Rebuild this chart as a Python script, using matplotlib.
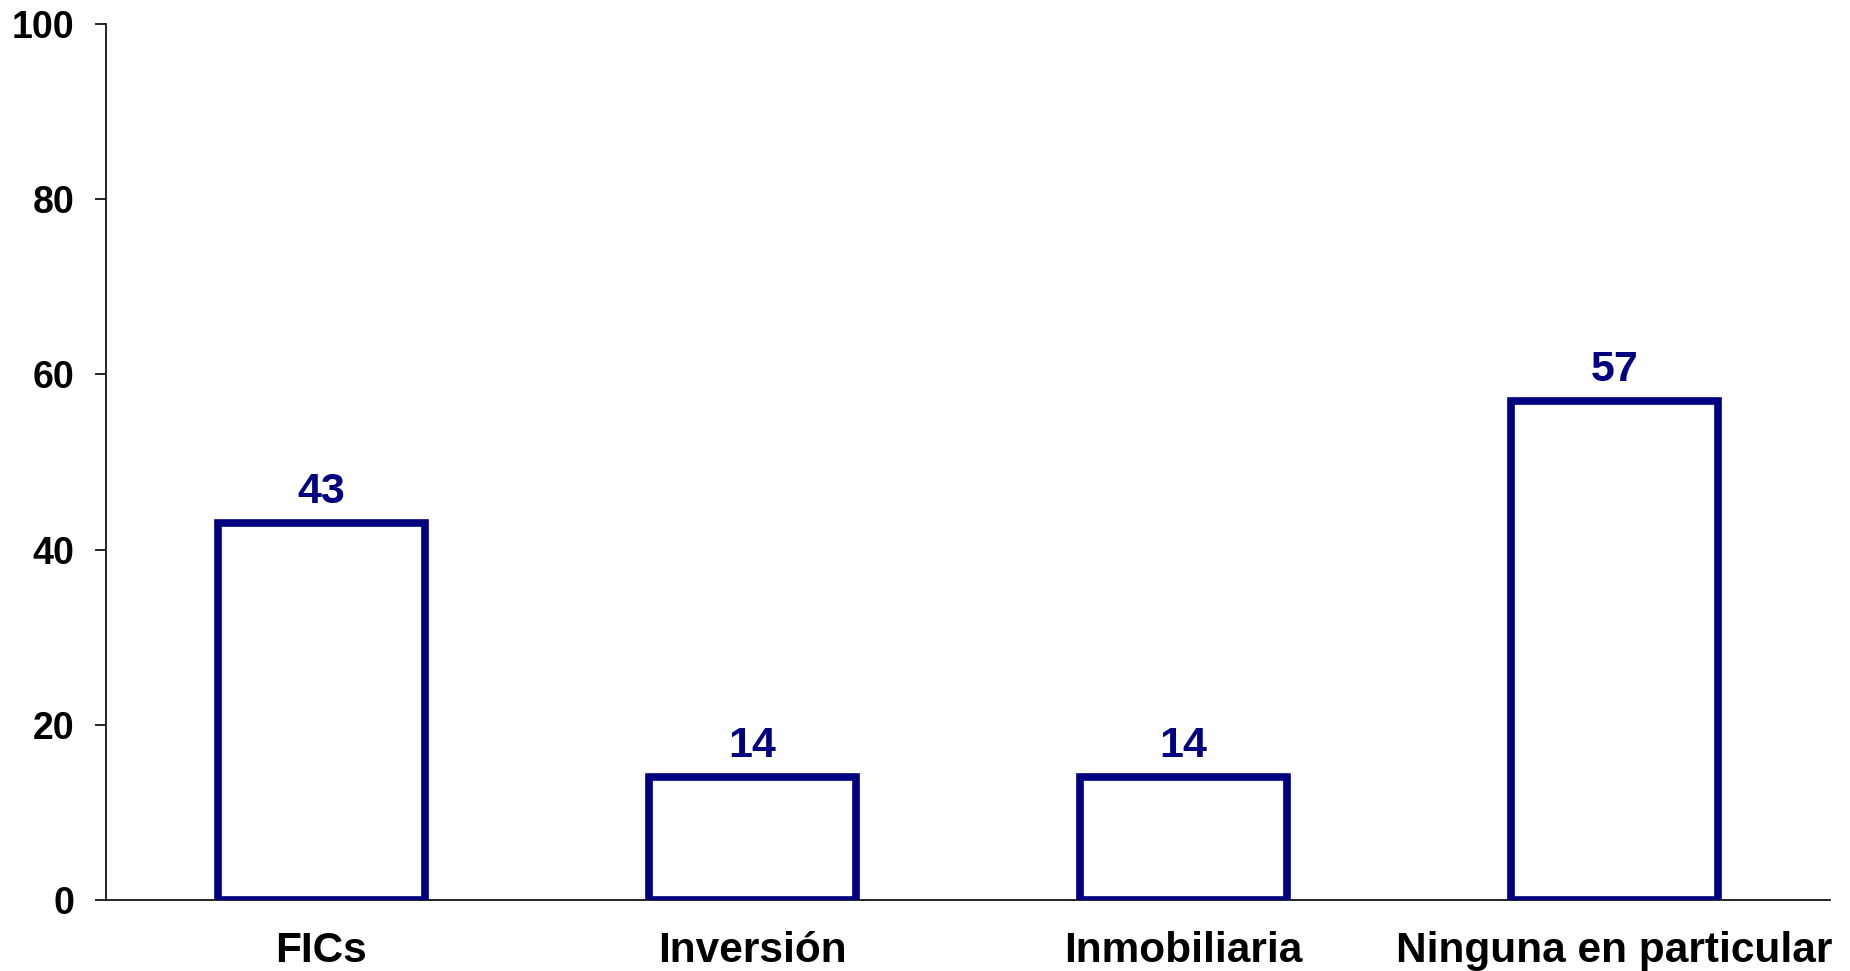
import matplotlib
matplotlib.use("Agg")
import matplotlib.pyplot as plt

categories = ["FICs", "Inversión", "Inmobiliaria", "Ninguna en particular"]
values = [43, 14, 14, 57]
yticks = [0, 20, 40, 60, 80, 100]

plt.rcParams['font.family'] = ['Liberation Sans', 'DejaVu Sans']
plt.rcParams['font.weight'] = 'bold'

fig = plt.figure(figsize=(18.5, 9.71), dpi=100)
ax = fig.add_axes([106/1850, 71/971, (1830-106)/1850, (900-24)/971])

x = range(len(categories))
bars = ax.bar(x, values, width=0.48, facecolor='white', edgecolor='#000080',
              linewidth=5.5, zorder=3)
for xi, v in zip(x, values):
    ax.annotate(str(v), (xi, v), xytext=(0, 8), textcoords='offset points',
                ha='center', va='bottom', fontsize=31, fontweight='bold',
                color='#000080')

ax.set_xlim(-0.5, len(categories) - 0.5)
ax.set_ylim(0, 100)
ax.set_yticks(yticks)
ax.set_yticklabels([str(t) for t in yticks], fontsize=27, fontweight='bold')
ax.set_xticks(list(x))
ax.set_xticklabels(categories, fontsize=30.5, fontweight='bold')
ax.tick_params(axis='x', length=0, pad=22.5)
ax.tick_params(axis='y', length=8, width=1.2, pad=15, direction='out')
for s in ['top', 'right']:
    ax.spines[s].set_visible(False)
ax.spines['left'].set_linewidth(1.2)
ax.spines['bottom'].set_linewidth(1.2)

fig.savefig("out.png", dpi=100)
